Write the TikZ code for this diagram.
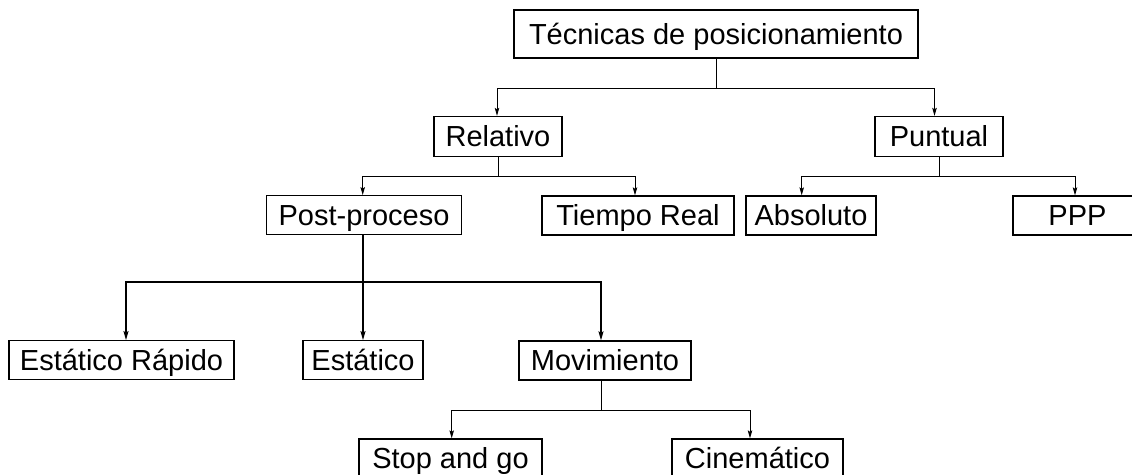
\documentclass[tikz,border=0pt]{standalone}
\usepackage{fontspec}
\setmainfont{Liberation Sans}
\usetikzlibrary{arrows.meta}
\tikzset{
  box/.style={draw, line width=1.3pt, rectangle, inner sep=0pt, text height=20.8pt, text depth=0pt,
    font=\fontsize{29}{34}\selectfont, align=center},
  topbox/.style={box, line width=2.5pt},
  con/.style={line width=0.9pt, draw=black},
  arr/.style={con, -{Stealth[length=8pt,width=4.5pt,inset=1.5pt]}},
  thickcon/.style={line width=1.2pt, draw=black},
  thickarr/.style={thickcon, -{Stealth[length=9pt,width=5pt,inset=1.5pt]}}
}
\begin{document}
\begin{tikzpicture}[x=1pt, y=-1pt]
\useasboundingbox (0,0) rectangle (1132,474);
% nodes
\node[topbox, minimum width=404pt, minimum height=48pt] (tec) at (716,34) {Técnicas de posicionamiento};
\node[box, minimum width=128pt, minimum height=40pt] (rel) at (498,136.5) {Relativo};
\node[box, minimum width=128pt, minimum height=40pt] (pun) at (939,136.5) {Puntual};
\node[box, minimum width=195pt, minimum height=38.5pt] (pp) at (364,215) {Post-proceso};
\node[box, minimum width=192pt, minimum height=39pt] (tr) at (638,215.5) {Tiempo Real};
\node[box, minimum width=130pt, minimum height=39pt] (abs) at (811,215.5) {Absoluto};
\node[box, minimum width=129pt, minimum height=39pt] (ppp) at (1077.5,215.5) {PPP};
\node[box, minimum width=225pt, minimum height=38.5pt] (er) at (121.5,360) {Estático Rápido};
\node[box, minimum width=120pt, minimum height=38.5pt] (est) at (363,360) {Estático};
\node[box, minimum width=172pt, minimum height=39pt] (mov) at (605,360.5) {Movimiento};
\node[box, minimum width=183pt, minimum height=38pt] (sg) at (450.5,458) {Stop and go};
\node[box, minimum width=171pt, minimum height=38pt] (cin) at (757.5,458) {Cinemático};
% junction levels
\coordinate (h0) at (0,88);
\coordinate (h1) at (0,176);
\coordinate (h3) at (0,282);
\coordinate (h4) at (0,410);
% top level
\draw[con] (tec.south) -- (tec.south |- h0);
\draw[arr] (tec.south |- h0) -| ([xshift=-1pt]rel.north);
\draw[arr] (tec.south |- h0) -| ([xshift=-4.5pt]pun.north);
% Relativo
\draw[con] (rel.south) -- (rel.south |- h1);
\draw[arr] (rel.south |- h1) -| ([xshift=-1.3pt]pp.north);
\draw[arr] (rel.south |- h1) -| ([xshift=-3pt]tr.north);
% Puntual
\draw[con] (pun.south) -- (pun.south |- h1);
\draw[arr] (pun.south |- h1) -| ([xshift=-9.3pt]abs.north);
\draw[arr] (pun.south |- h1) -| ([xshift=-2.5pt]ppp.north);
% Post-proceso
\draw[thickarr] ([xshift=-1pt]pp.south) -- ([xshift=-1pt]pp.south |- est.north);
\draw[thickarr] ([xshift=-1pt]pp.south |- h3) -| ([xshift=4.5pt]er.north);
\draw[thickarr] ([xshift=-1pt]pp.south |- h3) -| ([xshift=-4pt]mov.north);
% Movimiento
\draw[con] ([xshift=-3.3pt]mov.south) -- ([xshift=-3.3pt]mov.south |- h4);
\draw[arr] ([xshift=-3.3pt]mov.south |- h4) -| ([xshift=1.2pt]sg.north);
\draw[arr] ([xshift=-3.3pt]mov.south |- h4) -| ([xshift=-7.5pt]cin.north);
\end{tikzpicture}
\end{document}
